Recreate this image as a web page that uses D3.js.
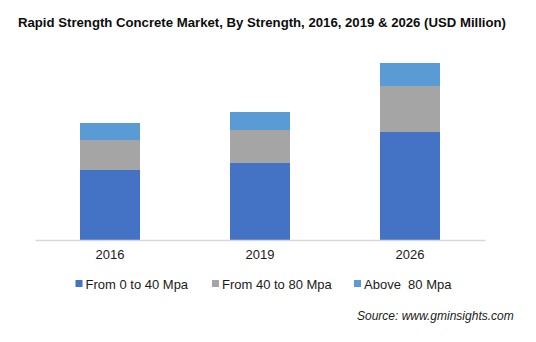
<html>
<title>Rapid Strength Concrete Market</title>
<script src="https://d3js.org/d3.v7.min.js"></script>
<style>
  body { margin: 0; background: white; }
  text { font-family: "Liberation Sans", Arial, sans-serif; }
</style>
<body>
<svg width="536" height="342"></svg>
<script>
// chart data
var years = ["2016", "2019", "2026"];
var seriesNames = ["From 0 to 40 Mpa", "From 40 to 80 Mpa", "Above  80 Mpa"];
var low = [70, 77, 108];
var mid = [30, 33, 46];
var high = [17, 18, 23];
var colors = ["#4472C4", "#A5A5A5", "#5B9BD5"];

var svg = d3.select("svg");

var rows = years.map(function(y, i) {
  return { year: y, s0: low[i], s1: mid[i], s2: high[i] };
});
var stack = d3.stack().keys(["s0", "s1", "s2"])(rows);

var xs = d3.scaleBand().domain(years).range([35, 485]).paddingInner(0.6).paddingOuter(0.3);
var ys = d3.scaleLinear().domain([0, 200]).range([240, 40]);

// title
svg.append("text")
  .attr("x", 18).attr("y", 27)
  .attr("font-size", "13.5px")
  .attr("font-weight", "bold")
  .attr("fill", "#0d0d0d")
  .attr("textLength", 488)
  .attr("lengthAdjust", "spacingAndGlyphs")
  .text("Rapid Strength Concrete Market, By Strength, 2016, 2019 & 2026 (USD Million)");

// bars
svg.append("g").selectAll("g").data(stack).enter().append("g")
  .attr("fill", function(d, i) { return colors[i]; })
  .selectAll("rect").data(function(d) { return d; }).enter().append("rect")
  .attr("x", function(d) { return xs(d.data.year); })
  .attr("width", xs.bandwidth())
  .attr("y", function(d) { return ys(d[1]); })
  .attr("height", function(d) { return ys(d[0]) - ys(d[1]); });

// x axis
var xAxis = svg.append("g")
  .attr("transform", "translate(0,240)")
  .call(d3.axisBottom(xs).tickSize(0).tickPadding(10));
xAxis.select(".domain").attr("stroke", "#d9d9d9").attr("stroke-width", 1.5);
xAxis.selectAll("text")
  .attr("font-size", "13px")
  .attr("font-family", "Liberation Sans, Arial, sans-serif")
  .attr("fill", "#1a1a1a");

// legend
var legendX = [75.5, 212, 354];
var legend = svg.append("g").selectAll("g").data(seriesNames).enter().append("g")
  .attr("transform", function(d, i) { return "translate(" + legendX[i] + ",280)"; });
legend.append("rect")
  .attr("width", 7).attr("height", 7)
  .attr("fill", function(d, i) { return colors[i]; });
legend.append("text")
  .attr("x", 10).attr("y", 9)
  .attr("font-size", "13px")
  .attr("fill", "#1a1a1a")
  .style("white-space", "pre")
  .text(function(d) { return d; });

// source
svg.append("text")
  .attr("x", 357).attr("y", 320)
  .attr("font-size", "12px")
  .attr("font-style", "italic")
  .attr("fill", "#1a1a1a")
  .text("Source: www.gminsights.com");
</script>
</body>
</html>
